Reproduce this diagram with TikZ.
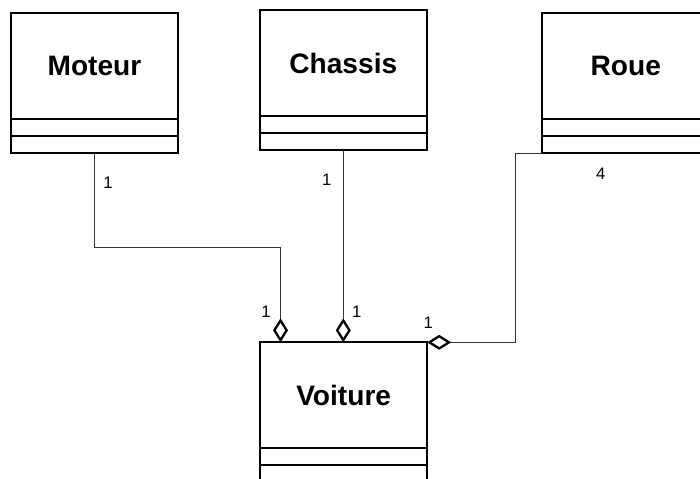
\documentclass[tikz,border=0pt]{standalone}
\usepackage{fontspec}
\setmainfont{Liberation Sans}
\usetikzlibrary{positioning,arrows.meta,calc}
\begin{document}
\begin{tikzpicture}
[
x=0.02cm, y=-0.02cm,
classname/.style={rectangle, draw=black, line width=1.1pt, outer sep=0, inner sep=0, minimum width=3.34cm, minimum height=2.12cm, font=\fontsize{16}{19}\selectfont\bfseries},
classpart/.style={rectangle, draw=black, line width=1.1pt, outer sep=0, inner sep=0, minimum width=3.34cm, minimum height=0.34cm},
assoc/.style={draw=black!80, line width=0.6pt, -{Diamond[open, color=black, length=0.48cm, width=0.3cm, line width=1.3pt]}},
mult/.style={font=\fontsize{9.5}{11}\selectfont, inner sep=0}
]
\useasboundingbox (0,0) rectangle (700,479);
%Nodes
\node[classname] at(94.5,66.3)		(moteur) {Moteur};
\node[classpart, below=0pt of moteur]		(moteurattr) {};
\node[classpart, below=0pt of moteurattr]	(moteurops) {};
\node[classname] at(343.3,63)		(chassis) {Chassis};
\node[classpart, below=0pt of chassis]		(chassisattr) {};
\node[classpart, below=0pt of chassisattr]	(chassisops) {};
\node[classname] at(625.8,66.3)		(roue) {Roue};
\node[classpart, below=0pt of roue]		(roueattr) {};
\node[classpart, below=0pt of roueattr]		(roueops) {};
\node[classname] at(343.7,395.3)		(voiture) {Voiture};
\node[classpart, below=0pt of voiture]		(voitureattr) {};
\node[classpart, below=0pt of voitureattr]	(voitureops) {};
%Connectors
\draw[assoc] (moteurops.south) -- ++(0,94) -| ($(voiture.north west)+(20.3,0)$);
\draw[assoc] (chassisops.south) -- (chassisops.south |- voiture.north);
\draw[assoc] (roueops.south west) -- ++(-26.6,0) |- (voiture.north east);
%Multiplicities
\node[mult]		(m1) at(108,183) {1};
\node[mult]		(m2) at(266,312) {1};
\node[mult]		(m3) at(326.7,180) {1};
\node[mult]		(m4) at(356.7,311.7) {1};
\node[mult]		(m5) at(428.3,322.7) {1};
\node[mult]		(m6) at(600.7,173.3) {4};
\end{tikzpicture}
\end{document}
